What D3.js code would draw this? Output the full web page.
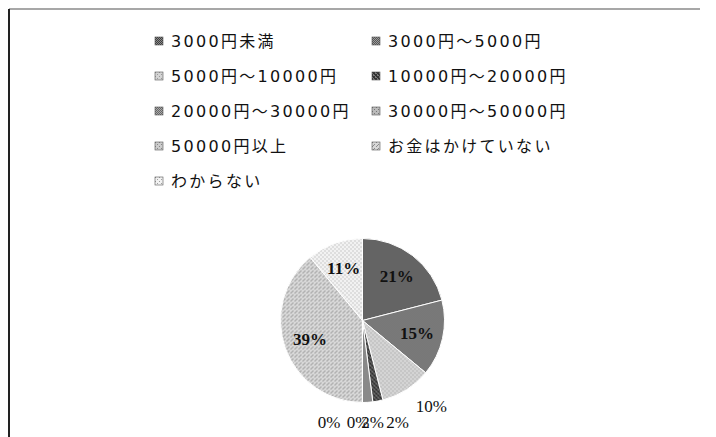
<!DOCTYPE html>
<html>
<head>
<meta charset="utf-8">
<script src="https://cdn.jsdelivr.net/npm/d3@7"></script>
<style>
  body { margin: 0; background: #fff; }
</style>
</head>
<body>
<svg id="chart" width="716" height="437"></svg>
<script>
// Monthly spending categories and their shares (%)
const categories = [
  "3000円未満",
  "3000円～5000円",
  "5000円～10000円",
  "10000円～20000円",
  "20000円～30000円",
  "30000円～50000円",
  "50000円以上",
  "お金はかけていない",
  "わからない"
];
const shares = [21, 15, 10, 2, 2, 0, 0, 39, 11];

// Grayscale fills: base tone, texture ink, texture kind
const palette = [
  { base: "#8c8c8c", ink: "#3c3c3c", kind: "diag" },
  { base: "#9c9c9c", ink: "#555555", kind: "diag" },
  { base: "#d4d4d4", ink: "#9a9a9a", kind: "sparse" },
  { base: "#7a7a7a", ink: "#333333", kind: "dense" },
  { base: "#ababab", ink: "#666666", kind: "diag" },
  { base: "#bbbbbb", ink: "#777777", kind: "sparse" },
  { base: "#cccccc", ink: "#888888", kind: "sparse" },
  { base: "#d8d8d8", ink: "#8c8c8c", kind: "dots" },
  { base: "#f2f2f2", ink: "#a0a0a0", kind: "sparse" }
];

const svg = d3.select("#chart");
const W = 716, H = 437;

// Texture patterns
const defs = svg.append("defs");
const texturePixels = {
  diag:   [[0,0],[1,1],[2,2],[3,3],[2,0],[3,1],[0,2],[1,3]],
  dense:  [[0,0],[1,1],[2,2],[3,3],[1,0],[2,1],[3,2],[0,3],[2,0],[0,2]],
  dots:   [[0,0],[2,2],[1,3]],
  sparse: [[0,0],[2,2]]
};
palette.forEach((p, i) => {
  const pat = defs.append("pattern")
    .attr("id", "tex" + i)
    .attr("patternUnits", "userSpaceOnUse")
    .attr("width", 4).attr("height", 4);
  pat.append("rect").attr("width", 4).attr("height", 4).attr("fill", p.base);
  texturePixels[p.kind].forEach(([x, y]) => {
    pat.append("rect").attr("x", x).attr("y", y)
      .attr("width", 1).attr("height", 1).attr("fill", p.ink);
  });
});

// Frame
svg.append("line").attr("x1", 9).attr("y1", 9).attr("x2", 700).attr("y2", 9)
  .attr("stroke", "#8a8a8a").attr("stroke-width", 1.5);
svg.append("line").attr("x1", 9).attr("y1", 9).attr("x2", 9).attr("y2", H)
  .attr("stroke", "#222").attr("stroke-width", 2);

// Legend: two columns
const legendX = [155, 372];
const legendY0 = 41, legendStep = 35;
const legend = svg.append("g").attr("class", "legend");
categories.forEach((c, i) => {
  const col = i % 2, row = Math.floor(i / 2);
  const g = legend.append("g")
    .attr("transform", `translate(${legendX[col]},${legendY0 + row * legendStep})`);
  g.append("rect").attr("x", 0).attr("y", -4).attr("width", 8).attr("height", 8)
    .attr("fill", `url(#tex${i})`).attr("stroke", "#555").attr("stroke-width", 0.6);
  g.append("text")
    .attr("x", 16).attr("y", 0)
    .attr("dy", "0.36em")
    .attr("font-family", "'DejaVu Sans', 'Noto Sans CJK JP', sans-serif")
    .attr("font-size", 16)
    .attr("letter-spacing", 2.3)
    .attr("fill", "#111")
    .text(c);
});

// Pie
const cx = 362.5, cy = 320.5, R = 82;
const pie = d3.pie().sort(null).value(d => d)(shares);
const arc = d3.arc().innerRadius(0).outerRadius(R);
const gPie = svg.append("g").attr("transform", `translate(${cx},${cy})`);
gPie.selectAll("path").data(pie).join("path")
  .attr("d", arc)
  .attr("fill", (d, i) => `url(#tex${i})`)
  .attr("stroke", "#fff").attr("stroke-width", 1);

// Data labels: large slices inside, small ones outside
const inner = d3.arc().innerRadius(R * 0.68).outerRadius(R * 0.68);
const labelFont = "'Liberation Serif', 'Times New Roman', serif";
const bottomRow = [];
pie.forEach((d, i) => {
  const mid = (d.startAngle + d.endAngle) / 2;
  const txt = `${d.data}%`;
  if (d.data > 10) {
    const [x, y] = inner.centroid(d);
    gPie.append("text")
      .attr("x", x).attr("y", y).attr("dy", "0.35em")
      .attr("text-anchor", "middle")
      .attr("font-family", labelFont).attr("font-size", 17).attr("font-weight", "bold")
      .attr("fill", "#111").text(txt);
  } else if (Math.abs(Math.sin(mid)) > 0.3) {
    const rr = R + 12;
    const x = rr * Math.sin(mid), y = -rr * Math.cos(mid);
    gPie.append("text")
      .attr("x", x + 3).attr("y", y).attr("dy", "0.72em")
      .attr("text-anchor", Math.sin(mid) > 0 ? "start" : "end")
      .attr("font-family", labelFont).attr("font-size", 17)
      .attr("fill", "#111").text(txt);
  } else {
    bottomRow.push(txt);
  }
});
// Labels crowded at the bottom are nudged into a row, right to left
const rowNudge = [35, 10, -4.5, -33.5];
bottomRow.forEach((txt, k) => {
  gPie.append("text")
    .attr("x", rowNudge[k]).attr("y", R + 13).attr("dy", "0.72em")
    .attr("text-anchor", "middle")
    .attr("font-family", labelFont).attr("font-size", 17)
    .attr("fill", "#111").text(txt);
});
</script>
</body>
</html>
